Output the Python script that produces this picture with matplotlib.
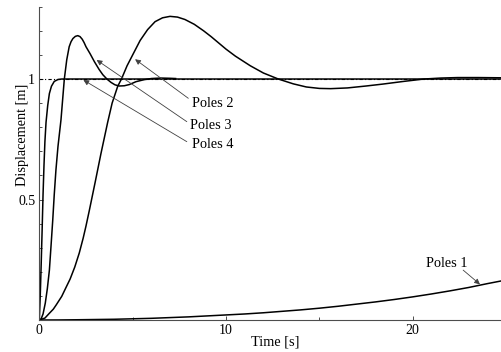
import matplotlib
matplotlib.use("Agg")
import matplotlib.pyplot as plt
from matplotlib.ticker import MultipleLocator, FixedLocator

plt.rcParams['font.family'] = ['Liberation Serif', 'DejaVu Serif']

# step responses (time [s], displacement [m])
t_p1 = [0, 1, 2, 3, 4, 5, 6, 7, 8, 9, 10, 11, 12, 13, 14, 15, 16, 17, 18, 19,
        20, 21, 22, 23, 24, 24.8]
y_p1 = [0, 0.0002, 0.001, 0.002, 0.003, 0.005, 0.007, 0.01, 0.013, 0.017,
        0.021, 0.025, 0.03, 0.036, 0.042, 0.049, 0.057, 0.066, 0.075, 0.085,
        0.096, 0.108, 0.121, 0.135, 0.151, 0.163]

t_p2 = [0, 0.3, 0.54, 0.75, 0.9, 1.2, 1.43, 1.65, 1.9, 2.14, 2.35, 2.5, 2.68,
        3.0, 3.3, 3.66, 3.9, 4.2, 4.4, 4.7, 5.0, 5.4, 5.8, 6.2, 6.6, 7.0, 7.4,
        7.8, 8.3, 8.8, 9.2, 9.6, 10.0, 10.5, 11.3, 12.0, 12.8, 13.6, 14.3,
        15.0, 15.6, 16.5, 17.5, 18.4, 19.5, 20.6, 21.5, 22.4, 23.5, 24.8]
y_p2 = [0, 0.008, 0.028, 0.045, 0.062, 0.098, 0.135, 0.17, 0.22, 0.278,
        0.34, 0.39, 0.455, 0.575, 0.69, 0.82, 0.9, 0.97, 1.0, 1.055, 1.1, 1.16,
        1.205, 1.238, 1.254, 1.26, 1.257, 1.247, 1.227, 1.2, 1.176, 1.15,
        1.124, 1.095, 1.055, 1.025, 1.0, 0.98, 0.967, 0.961, 0.96, 0.963,
        0.971, 0.979, 0.99, 1.0, 1.004, 1.006, 1.006, 1.005]

t_p3 = [0, 0.1, 0.2, 0.32, 0.43, 0.54, 0.63, 0.72, 0.8, 0.89, 1.0, 1.16,
        1.34, 1.47, 1.6, 1.7, 1.8, 1.93, 2.06, 2.18, 2.3, 2.4, 2.5, 2.72, 2.95,
        3.2, 3.4, 3.62, 3.84, 4.05, 4.28, 4.55, 4.82, 5.18, 5.6, 6.0, 6.5,
        7.0, 7.3]
y_p3 = [0, 0.005, 0.025, 0.07, 0.13, 0.207, 0.31, 0.415, 0.52, 0.622, 0.72,
        0.83, 1.0, 1.08, 1.134, 1.155, 1.168, 1.177, 1.18, 1.176, 1.165,
        1.151, 1.134, 1.105, 1.072, 1.04, 1.018, 1.0, 0.986, 0.976, 0.971,
        0.972, 0.977, 0.989, 0.997, 1.002, 1.004, 1.003, 1.002]

t_p4 = [0, 0.05, 0.1, 0.15, 0.2, 0.25, 0.3, 0.36, 0.45, 0.54, 0.65, 0.8,
        1.0, 1.2, 5, 10, 24.8]
y_p4 = [0, 0.1, 0.23, 0.37, 0.52, 0.64, 0.74, 0.82, 0.89, 0.94, 0.97, 0.99,
        0.998, 1.0, 1.0, 1.0, 1.0]

fig = plt.figure(figsize=(5.02, 3.52), dpi=100)
ax = fig.add_axes([0.0783, 0.0909, 0.9217, 0.890])

ax.plot([0, 24.8], [1, 1], color='black', lw=0.8, linestyle=(0, (3, 2, 1, 2)))
for t, y in [(t_p1, y_p1), (t_p2, y_p2), (t_p3, y_p3), (t_p4, y_p4)]:
    ax.plot(t, y, color='black', lw=1.1)

ax.set_xlim(0, 24.78)
ax.set_ylim(0, 1.3)

ax.spines['top'].set_visible(False)
ax.spines['right'].set_visible(False)
for s in ['left', 'bottom']:
    ax.spines[s].set_linewidth(0.8)
    ax.spines[s].set_color('0.3')

ax.xaxis.set_major_locator(FixedLocator([0, 10, 20]))
ax.xaxis.set_minor_locator(FixedLocator([5, 15]))
ax.yaxis.set_major_locator(FixedLocator([0.5, 1]))
ax.yaxis.set_minor_locator(MultipleLocator(0.1))
ax.set_yticklabels(['0.5', '1'])
ax.tick_params(which='both', direction='in', color='0.3', width=0.7,
               labelsize=10)
ax.tick_params(which='major', length=3, pad=3)
ax.tick_params(which='minor', length=2)

ax.set_xlabel('Time [s]', fontsize=10.3)
ax.set_ylabel('Displacement [m]', fontsize=10.3)
ax.xaxis.set_label_coords(0.509, -0.05)
ax.yaxis.set_label_coords(-0.022, 0.59)

arrow = dict(arrowstyle='-|>', color='0.25', lw=0.6, mutation_scale=8,
             shrinkA=0, shrinkB=0)
ax.annotate('', xy=(5.13, 1.082), xytext=(7.98, 0.92), arrowprops=arrow)
ax.annotate('', xy=(3.07, 1.079), xytext=(7.9, 0.823), arrowprops=arrow)
ax.annotate('', xy=(2.36, 0.996), xytext=(7.9, 0.74), arrowprops=arrow)
ax.annotate('', xy=(23.6, 0.148), xytext=(22.7, 0.207), arrowprops=arrow)
ax.text(8.16, 0.899, 'Poles 2', fontsize=10.3, ha='left', va='center')
ax.text(8.07, 0.809, 'Poles 3', fontsize=10.3, ha='left', va='center')
ax.text(8.16, 0.73, 'Poles 4', fontsize=10.3, ha='left', va='center')
ax.text(21.82, 0.235, 'Poles 1', fontsize=10.3, ha='center', va='center')

fig.savefig('out.png', dpi=100)
